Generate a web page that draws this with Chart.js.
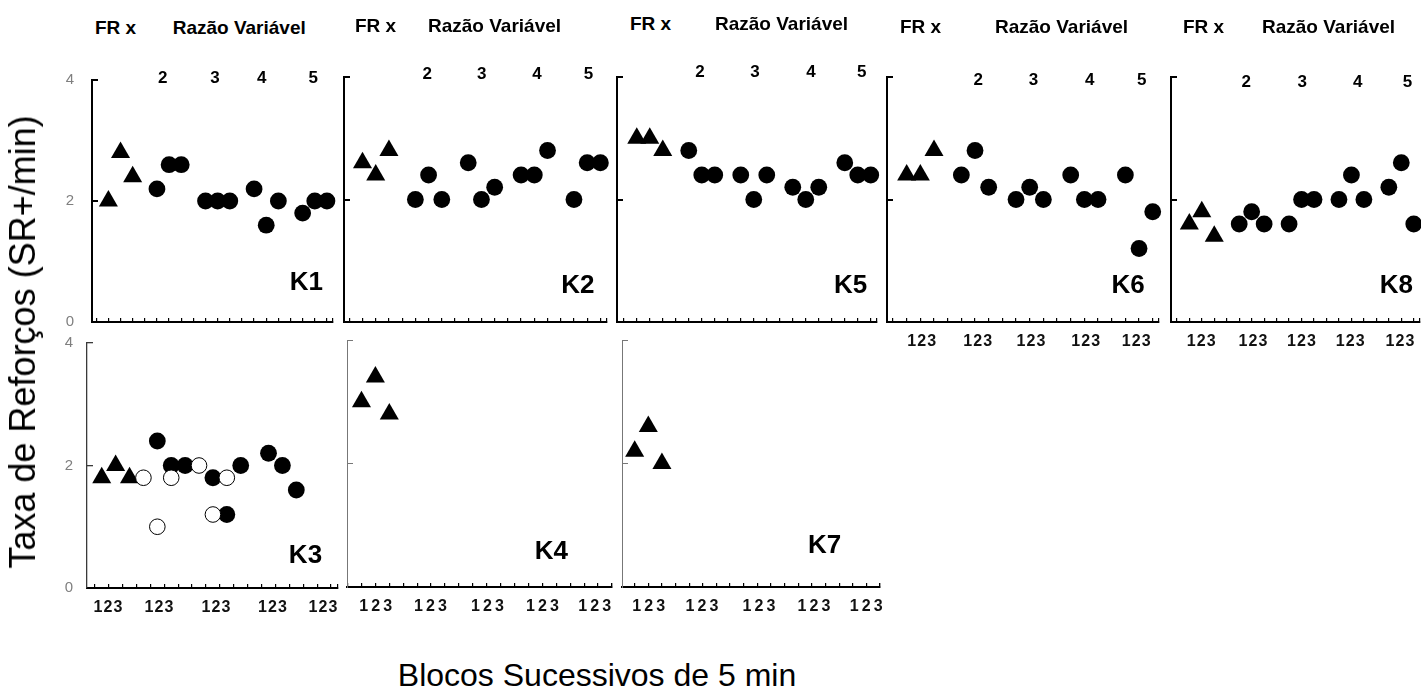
<!DOCTYPE html>
<html><head><meta charset="utf-8">
<script src="https://cdn.jsdelivr.net/npm/chart.js@4.4.1/dist/chart.umd.min.js"></script>
<style>
html,body{margin:0;padding:0;background:#fff;}
#wrap{position:relative;width:1421px;height:690px;overflow:hidden;background:#fff;font-family:"Liberation Sans",Arial,sans-serif;}
.hdr{position:absolute;font-weight:bold;font-size:19px;color:#000;white-space:nowrap;line-height:1;transform:translateY(-50%);}
.ttl{position:absolute;color:#000;white-space:nowrap;line-height:1;}
canvas{position:absolute;}
</style></head><body><div id="wrap"></div>
<script>
// ---------- data ----------
const blockDigits = ["1","2","3"];
const ratioLabels = ["2","3","4","5"];
const yTicks = [0,2,4];
const frBlocks = [0,1,2];
const vrBlocks = [4,5,6,8,9,10,12,13,14,16,17,18];

const k1FR = [2.0,2.8,2.4];
const k1VR = [2.2,2.6,2.6, 2.0,2.0,2.0, 2.2,1.6,2.0, 1.8,2.0,2.0];
const k2FR = [2.6,2.4,2.8];
const k2VR = [2.0,2.4,2.0, 2.6,2.0,2.2, 2.4,2.4,2.8, 2.0,2.6,2.6];
const k5FR = [3.0,3.0,2.8];
const k5VR = [2.8,2.4,2.4, 2.4,2.0,2.4, 2.2,2.0,2.2, 2.6,2.4,2.4];
const k6FR = [2.4,2.4,2.8];
const k6VR = [2.4,2.8,2.2, 2.0,2.2,2.0, 2.4,2.0,2.0, 2.4,1.2,1.8];
const k8FR = [1.6,1.8,1.4];
const k8VR = [1.6,1.8,1.6, 1.6,2.0,2.0, 2.0,2.4,2.0, 2.2,2.6,1.6];

const k3FR = [1.8,2.0,1.8];
const k3VRBlocks = [4,5,6,8,9,10,12,13,14];
const k3VR = [2.4,2.0,2.0,1.8,1.2,2.0,2.2,2.0,1.6];
const k3OpenBlocks = [3,4,5,7,8,9];
const k3Open = [1.8,1.0,1.8,2.0,1.2,1.8];
const k4FR = [3.0,3.4,2.8];
const k7FR = [2.2,2.6,2.0];

const panelNames = ["K1","K2","K5","K6","K8","K3","K4","K7"];
const headerFR = "FR x";
const headerVR = "Razão Variável";
const yTitle = "Taxa de Reforços (SR+/min)";
const xTitle = "Blocos Sucessivos de 5 min";

// ---------- layout / style ----------
const top1 = {bw:2, bc:'#000', yw:2, yc:'#000'};
const panels = [
 {name:panelNames[0], fr:k1FR, vr:k1VR, vrX:vrBlocks, area:[92,77,333,322], xr:[-1.35,18.5], showY:true, yPad:24, nameAt:[16.3,0.64], ratioX:[4.47,8.78,12.63,16.88], ratioY:4.02, ...top1},
 {name:panelNames[1], fr:k2FR, vr:k2VR, vrX:vrBlocks, area:[344,77,607,322], xr:[-1.4,18.5], nameAt:[16.3,0.59], ratioX:[4.9,9.02,13.2,17.1], ratioY:4.04, ...top1},
 {name:panelNames[2], fr:k5FR, vr:k5VR, vrX:vrBlocks, area:[617,77,877,322], xr:[-1.52,18.48], nameAt:[16.45,0.59], ratioX:[4.87,9.1,13.4,17.3], ratioY:4.07, ...top1},
 {name:panelNames[3], fr:k6FR, vr:k6VR, vrX:vrBlocks, area:[887,77,1159,322], xr:[-1.44,18.46], nameAt:[16.2,0.59], ratioX:[5.24,9.27,13.4,17.2], ratioY:3.95, blocks:[1.1,5.2,9.1,13.1,16.8], gap:10, ...top1},
 {name:panelNames[4], fr:k8FR, vr:k8VR, vrX:vrBlocks, area:[1171,77,1420,322], xr:[-1.47,18.5], nameAt:[16.6,0.59], ratioX:[4.57,9.06,13.5,17.5], ratioY:3.92, blocks:[0.95,5.1,9.0,12.9,16.9], gap:10, ...top1},
 {name:panelNames[5], fr:k3FR, vr:k3VR, vrX:k3VRBlocks, open:k3Open, openX:k3OpenBlocks, area:[87,343,338,588], xr:[-1.06,17.0], tickOff:0.5, showY:true, yPad:20, nameAt:[14.66,0.52], blocks:[0.45,4.12,8.22,12.29,15.92], gap:10, bw:2, bc:'#000', yw:1.3, yc:'#3a3a3a'},
 {name:panelNames[6], fr:k4FR, area:[347,340,612,587], xr:[-1.04,18.0], nameAt:[13.65,0.57], blocks:[1.03,4.95,9.05,13.0,16.75], gap:12, bw:2, bc:'#000', yw:1, yc:'#777'},
 {name:panelNames[7], fr:k7FR, area:[622,340,880,587], xr:[-0.93,18.0], nameAt:[13.93,0.67], blocks:[1.03,4.93,9.12,13.16,16.99], gap:12, bw:2, bc:'#000', yw:1, yc:'#777'},
];
const headers = [[95,172.7,27],[355,428,25],[630,715,23],[900,995,26],[1183,1262,26]];

const wrap = document.getElementById('wrap');

const panelText = {
  id:'panelText',
  afterDraw(chart, args, o){
    const ctx = chart.ctx, x = chart.scales.x, y = chart.scales.y, a = chart.chartArea;
    ctx.save();
    ctx.fillStyle = '#000';
    ctx.textAlign = 'center'; ctx.textBaseline = 'middle';
    ctx.font = 'bold 26px "Liberation Sans", Arial, sans-serif';
    ctx.fillText(o.name, x.getPixelForValue(o.nameAt[0]), y.getPixelForValue(o.nameAt[1]));
    if (o.ratioX) {
      ctx.font = 'bold 17px "Liberation Sans", Arial, sans-serif';
      o.ratioX.forEach((v,i)=> ctx.fillText(ratioLabels[i], x.getPixelForValue(v), y.getPixelForValue(o.ratioY)));
    }
    if (o.blocks) {
      ctx.font = 'bold 16px "Liberation Sans", Arial, sans-serif';
      ctx.fillStyle = '#111';
      o.blocks.forEach(c=>{
        const cx = x.getPixelForValue(c);
        blockDigits.forEach((d,k)=> ctx.fillText(d, cx + (k-1)*o.gap, a.bottom + 20));
      });
    }
    ctx.restore();
  }
};

function makePanel(p){
  const ML=45, MT=30, MR=12, MB=45;
  const w = p.area[2]-p.area[0], h = p.area[3]-p.area[1];
  const cv = document.createElement('canvas');
  cv.width = w+ML+MR; cv.height = h+MT+MB;
  cv.style.left = (p.area[0]-ML)+'px'; cv.style.top = (p.area[1]-MT)+'px';
  cv.style.width = cv.width+'px'; cv.style.height = cv.height+'px';
  wrap.appendChild(cv);
  const ds = [];
  if (p.open) ds.push({data:p.openX.map((b,i)=>({x:b,y:p.open[i]})), pointStyle:'circle', pointRadius:7.8, backgroundColor:'#fff', borderColor:'#000', borderWidth:1, order:0, clip:false});
  if (p.vr) ds.push({data:p.vrX.map((b,i)=>({x:b,y:p.vr[i]})), pointStyle:'circle', pointRadius:8.4, backgroundColor:'#000', borderColor:'#000', borderWidth:0, order:1, clip:false});
  ds.push({data:frBlocks.map((b,i)=>({x:b,y:p.fr[i]})), pointStyle:'triangle', pointRadius:11, backgroundColor:'#000', borderColor:'#000', borderWidth:0, order:2, clip:false});
  new Chart(cv, {
    type:'scatter',
    data:{datasets:ds},
    options:{
      responsive:false, animation:false, devicePixelRatio:1,
      layout:{padding:{top:MT,right:MR,left:0,bottom:0}},
      plugins:{legend:{display:false}, tooltip:{enabled:false}, panelText:p},
      scales:{
        x:{type:'linear', min:p.xr[0], max:p.xr[1], bounds:'data',
           afterFit(s){ s.height = MB; },
           afterBuildTicks(s){ const off=p.tickOff||0; const t=[]; for(let v=Math.ceil(p.xr[0]-off)+off; v<=p.xr[1]+1e-9; v+=1) t.push({value:v}); t.push({value:p.xr[1]}); s.ticks=t; },
           ticks:{display:false},
           grid:{drawOnChartArea:false, drawTicks:true, tickLength:-4, color:'#000', lineWidth:1.2},
           border:{display:true, color:p.bc, width:p.bw}},
        y:{type:'linear', min:0, max:4, bounds:'data',
           afterFit(s){ s.width = ML; },
           afterBuildTicks(s){ s.ticks = yTicks.map(v=>({value:v})); },
           ticks:{display:!!p.showY, color:'#7f7f7f', padding:p.yPad||20, font:{family:'"Liberation Sans", Arial, sans-serif', size:15}},
           grid:{drawOnChartArea:false, drawTicks:true, tickLength:-6, color:p.yc, lineWidth:p.yw},
           border:{display:true, color:p.yc, width:p.yw}}
      }
    },
    plugins:[panelText]
  });
}
panels.forEach(makePanel);

headers.forEach(h=>{
  const a = document.createElement('div'); a.className='hdr'; a.textContent=headerFR;
  a.style.left=h[0]+'px'; a.style.top=h[2]+'px'; wrap.appendChild(a);
  const b = document.createElement('div'); b.className='hdr'; b.textContent=headerVR;
  b.style.left=h[1]+'px'; b.style.top=h[2]+'px'; wrap.appendChild(b);
});
const yt = document.createElement('div'); yt.className='ttl'; yt.textContent=yTitle;
yt.style.fontSize='36px';
yt.style.left='23px'; yt.style.top='342px'; yt.style.transform='translate(-50%,-50%) rotate(-90deg)';
wrap.appendChild(yt);
const xt = document.createElement('div'); xt.className='ttl'; xt.textContent=xTitle;
xt.style.fontSize='32px';
xt.style.left='597px'; xt.style.top='675px'; xt.style.transform='translate(-50%,-50%)';
wrap.appendChild(xt);
</script></body></html>
